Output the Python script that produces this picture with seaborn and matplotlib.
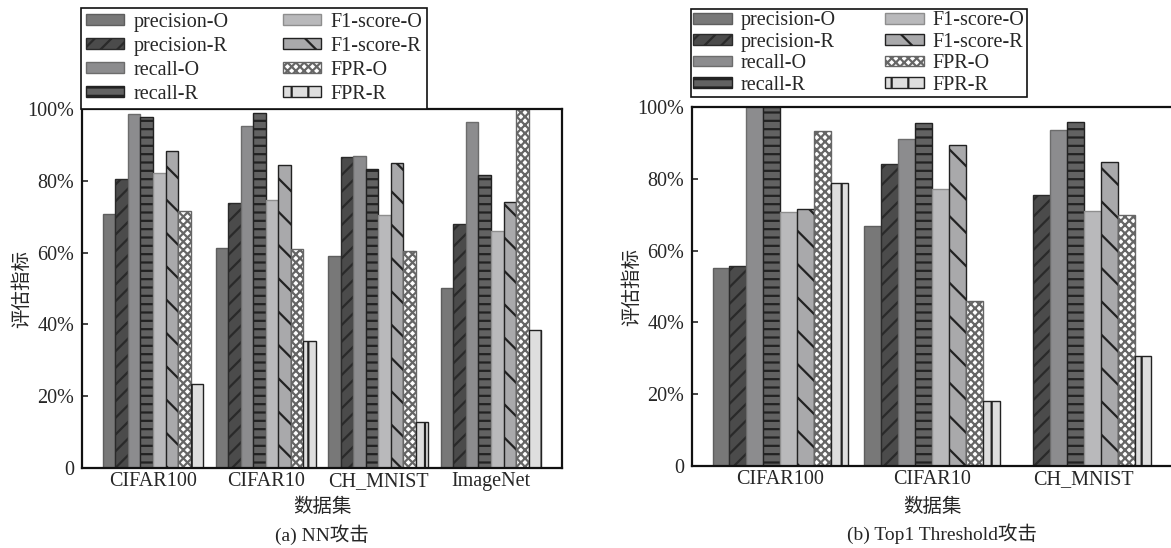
import matplotlib
matplotlib.use("Agg")
import matplotlib.pyplot as plt
from matplotlib.patches import Patch
import seaborn as sns
import pandas as pd

# ---------------- data ----------------
metrics = ['precision-O', 'precision-R', 'recall-O', 'recall-R',
           'F1-score-O', 'F1-score-R', 'FPR-O', 'FPR-R']

datasets_a = ['CIFAR100', 'CIFAR10', 'CH_MNIST', 'ImageNet']
precision_O_a = [70.7, 61.4, 59.1, 50.1]
precision_R_a = [80.6, 73.7, 86.6, 68.0]
recall_O_a = [98.5, 95.2, 87.0, 96.3]
recall_R_a = [97.8, 98.9, 83.4, 81.6]
f1_O_a = [82.3, 74.6, 70.4, 65.9]
f1_R_a = [88.4, 84.4, 85.0, 74.2]
fpr_O_a = [71.7, 61.1, 60.5, 100.0]
fpr_R_a = [23.5, 35.5, 12.8, 38.5]

datasets_b = ['CIFAR100', 'CIFAR10', 'CH_MNIST']
precision_O_b = [55.2, 66.9, 0.0]
precision_R_b = [55.8, 84.0, 75.6]
recall_O_b = [100.0, 91.1, 93.6]
recall_R_b = [100.0, 95.5, 95.9]
f1_O_b = [70.8, 77.1, 70.9]
f1_R_b = [71.5, 89.4, 84.6]
fpr_O_b = [93.3, 46.1, 69.8]
fpr_R_b = [78.8, 18.1, 30.7]

ytick_values = [0, 20, 40, 60, 80, 100]
ytick_labels = ['0', '20%', '40%', '60%', '80%', '100%']

# ---------------- styles ----------------
faces = ['#787878', '#4b4b4b', '#8c8c8e', '#626262', '#b9b9bb', '#a9a9ab', '#ffffff', '#dedede']
edges = ['#5e5e5e', '#2a2a2a', '#6c6c6c', '#222222', '#8e8e8e', '#222222', '#666666', '#222222']
hatches = ['', '//', '', '--', '', '\\', 'xxxx', '|']

FS = 14.5

sns.set_theme(style='white')
plt.rcParams['font.family'] = ['Liberation Serif', 'Noto Sans CJK SC']
plt.rcParams['hatch.linewidth'] = 1.6
plt.rcParams['axes.unicode_minus'] = False

W, H = 1171, 548
fig = plt.figure(figsize=(W / 100, H / 100), dpi=100)


def px_axes(l, t, r, b):
    return fig.add_axes([l / W, 1 - b / H, (r - l) / W, (b - t) / H])


def make_df(datasets, cols):
    rows = []
    for m, vals in zip(metrics, cols):
        for d, v in zip(datasets, vals):
            rows.append({'dataset': d, 'metric': m, 'value': v})
    return pd.DataFrame(rows)


def draw(ax, datasets, cols, xlim, h_px, w_px, xlab_dy, ylab_dx):
    df = make_df(datasets, cols)
    sns.barplot(data=df, x='dataset', y='value', hue='metric', order=datasets,
                hue_order=metrics, palette=faces, saturation=1, width=0.89,
                gap=0, legend=False, ax=ax, errorbar=None)
    for i, cont in enumerate(ax.containers):
        for bar in cont.patches:
            bar.set_facecolor(faces[i])
            bar.set_edgecolor(edges[i])
            bar.set_hatch(hatches[i])
            bar.set_linewidth(1.0)
    ax.set_ylim(0, 100)
    ax.set_xlim(*xlim)
    ax.set_yticks(ytick_values)
    ax.set_yticklabels(ytick_labels, fontsize=FS)
    ax.tick_params(axis='y', direction='in', length=4, width=1.2, left=True, pad=5.5)
    ax.tick_params(axis='x', length=0, labelsize=FS, pad=3)
    ax.set_xlabel('数据集', fontsize=FS - 0.5)
    ax.xaxis.label.set_va('center')
    ax.xaxis.set_label_coords(0.5, -xlab_dy / h_px)
    ax.set_ylabel('评估指标', fontsize=FS - 0.5)
    ax.yaxis.label.set_va('center')
    ax.yaxis.set_label_coords(-ylab_dx / w_px, 0.5)
    for s in ax.spines.values():
        s.set_color('#111111')
        s.set_linewidth(1.6)


def legend_handles():
    return [Patch(facecolor=faces[i], edgecolor=edges[i], hatch=hatches[i], linewidth=1.0,
                  label=metrics[i]) for i in range(len(metrics))]


# ---- left panel ----
ax1 = px_axes(82, 109, 562, 468)
draw(ax1, datasets_a,
     [precision_O_a, precision_R_a, recall_O_a, recall_R_a, f1_O_a, f1_R_a, fpr_O_a, fpr_R_a],
     (-0.63, 3.63), 359, 480, 39, 60)

# ---- right panel ----
ax2 = px_axes(692, 107, 1172, 466)
draw(ax2, datasets_b,
     [precision_O_b, precision_R_b, recall_O_b, recall_R_b, f1_O_b, f1_R_b, fpr_O_b, fpr_R_b],
     (-0.58, 2.58), 359, 480, 41, 60)

# ---- legends ----
for (l, t, r, b), sp, bp in [((81, 8, 427, 109), 0.25, 0.25), ((691, 6, 1027, 97), 0.12, 0.12)]:
    leg = fig.legend(handles=legend_handles(), ncol=2, loc='lower left',
                     bbox_to_anchor=(l / W, 1 - b / H, (r - l) / W, (b - t) / H),
                     mode='expand', fontsize=FS, frameon=True, fancybox=False,
                     edgecolor='#111111', handlelength=1.9, handleheight=0.45,
                     handletextpad=0.45, labelspacing=sp, borderpad=bp,
                     columnspacing=1.0, borderaxespad=0)
    leg.get_frame().set_linewidth(1.2)
    leg.get_frame().set_alpha(1)

# ---- captions ----
fig.text(322 / W, 1 - 535 / H, '(a) NN攻击', ha='center', va='center', fontsize=FS - 0.5)
fig.text(942 / W, 1 - 534 / H, '(b) Top1 Threshold攻击', ha='center', va='center', fontsize=FS - 0.5)

fig.savefig('out.png', dpi=100)
